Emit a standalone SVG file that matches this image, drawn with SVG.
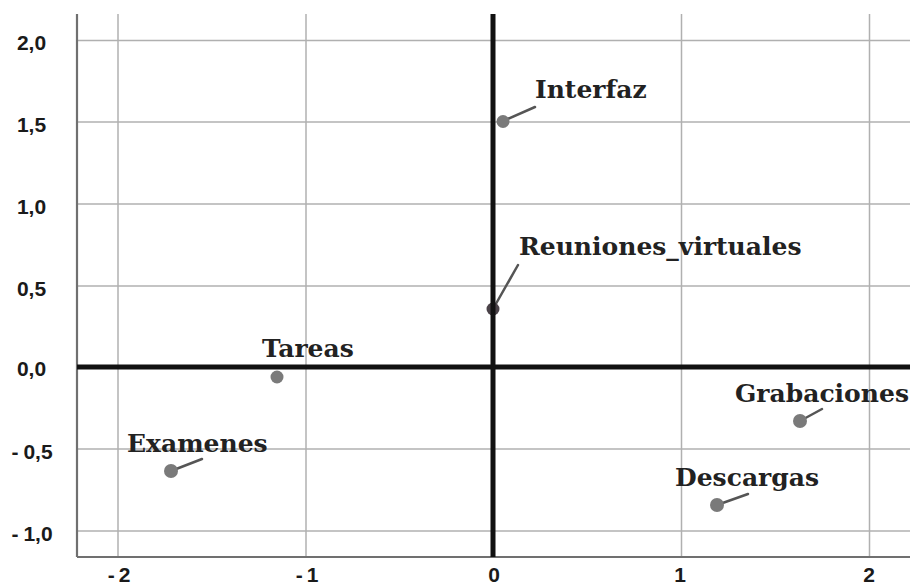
<svg xmlns="http://www.w3.org/2000/svg" width="912" height="586" viewBox="0 0 912 586">
<style>
.grid{stroke:#b0b0b0;stroke-width:1.5;fill:none}
.frame{stroke:#707070;stroke-width:2.2;fill:none}
.axis{stroke:#111;stroke-width:5;fill:none}
.tick{font-family:"Liberation Sans",Arial,sans-serif;font-weight:bold;font-size:21px;fill:#1a1a1a;text-anchor:middle}
.lbl{font-family:"DejaVu Serif","Liberation Serif",serif;font-weight:bold;font-size:25px;fill:#222}
.dot{fill:#7a7a7a}
.lead{stroke:#555;stroke-width:2.5;stroke-linecap:round;fill:none}
</style>
<rect width="912" height="586" fill="#fff"/>
<g id="grid">
<line class="grid" x1="77" y1="40.5" x2="910" y2="40.5"/>
<line class="grid" x1="77" y1="122" x2="910" y2="122"/>
<line class="grid" x1="77" y1="204" x2="910" y2="204"/>
<line class="grid" x1="77" y1="286" x2="910" y2="286"/>
<line class="grid" x1="77" y1="449" x2="910" y2="449"/>
<line class="grid" x1="77" y1="531" x2="910" y2="531"/>
<line class="grid" x1="118" y1="14" x2="118" y2="557"/>
<line class="grid" x1="306" y1="14" x2="306" y2="557"/>
<line class="grid" x1="681.5" y1="14" x2="681.5" y2="557"/>
<line class="grid" x1="869.5" y1="14" x2="869.5" y2="557"/>
<line class="frame" x1="77" y1="14" x2="77" y2="557"/>
<line class="frame" x1="77" y1="557" x2="910" y2="557"/>
</g>
<g id="yticks">
<text class="tick" x="31.5" y="50">2,0</text>
<text class="tick" x="31.5" y="132">1,5</text>
<text class="tick" x="31.5" y="214">1,0</text>
<text class="tick" x="31.5" y="296">0,5</text>
<text class="tick" x="31.5" y="376">0,0</text>
<text class="tick" x="32" y="459">-<tspan dx="5">0,5</tspan></text>
<text class="tick" x="32" y="541">-<tspan dx="5">1,0</tspan></text>
</g>
<g id="xticks">
<text class="tick" x="119" y="582">-<tspan dx="4">2</tspan></text>
<text class="tick" x="307" y="582">-<tspan dx="4">1</tspan></text>
<text class="tick" x="494" y="582">0</text>
<text class="tick" x="680" y="582">1</text>
<text class="tick" x="869" y="582">2</text>
</g>
<g id="connectors">
<line class="lead" x1="503" y1="121" x2="535" y2="107"/>
<line class="lead" x1="493" y1="309" x2="518" y2="265"/>
<line class="lead" x1="171" y1="471" x2="202" y2="459"/>
<line class="lead" x1="800" y1="421" x2="822" y2="409"/>
<line class="lead" x1="717" y1="505" x2="748" y2="494"/>
</g>
<g id="node-interfaz">
<circle class="dot" cx="503" cy="121.5" r="6.5"/>
<text class="lbl" x="535" y="98">Interfaz</text>
</g>
<g id="node-reuniones">
<circle cx="493" cy="309" r="6.5" fill="#4a4248"/>
<text class="lbl" x="519" y="255">Reuniones_virtuales</text>
</g>
<g id="node-tareas">
<circle class="dot" cx="277" cy="377" r="6.5"/>
<text class="lbl" x="262" y="357">Tareas</text>
</g>
<g id="node-examenes">
<circle class="dot" cx="171" cy="471" r="7"/>
<text class="lbl" x="127" y="452">Examenes</text>
</g>
<g id="node-grabaciones">
<circle class="dot" cx="800" cy="421" r="7"/>
<text class="lbl" x="735" y="402">Grabaciones</text>
</g>
<g id="node-descargas">
<circle class="dot" cx="717" cy="505" r="7"/>
<text class="lbl" x="675" y="486">Descargas</text>
</g>
<g id="axes">
<line class="axis" x1="77" y1="367" x2="910" y2="367"/>
<line class="axis" x1="493" y1="14" x2="493" y2="557"/>
</g>
</svg>
